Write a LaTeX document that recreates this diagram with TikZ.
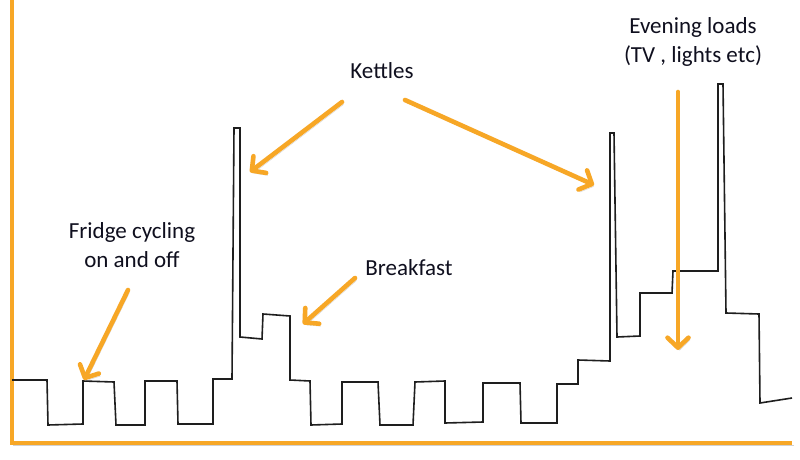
\documentclass[tikz,border=0pt]{standalone}
\usepackage{fontspec}
\setmainfont{Carlito}
\usetikzlibrary{arrows.meta}
\definecolor{orng}{RGB}{247,167,38}
\definecolor{trace}{RGB}{30,30,30}
\definecolor{ink}{RGB}{15,15,30}
\tikzset{
  shad/.style={preaction={draw=black, draw opacity=0.18, transform canvas={shift={(1.5pt,-2.5pt)}}}},
  axisline/.style={draw=orng, line width=4pt, shad},
  callout/.style={draw=orng, line width=4.6pt, line cap=round, shad,
    -{Straight Barb[length=10pt, width=21pt, line width=4.6pt, round]}},
  label/.style={font=\fontsize{23}{29}\selectfont, text=ink, inner sep=0pt, align=center},
  tracepath/.style={draw=trace, line width=1.6pt, line join=miter}
}
\begin{document}
\begin{tikzpicture}[x=1pt, y=-1pt]
\useasboundingbox (0,0) rectangle (800,460);
\fill[white] (0,0) rectangle (800,460);

% axes
\coordinate (ytop) at (12,0);
\coordinate (orig) at (12,443);
\coordinate (xend) at (792,443);
\draw[axisline] (ytop) -- (orig) -- (xend);

% load trace
\draw[tracepath] (12,380) -- (47,380) -- (48,425) -- (83,424) -- (83,381) -- (114,382) -- (116,425)
 -- (145,425) -- (145,381) -- (177,381) -- (178,424) -- (213,424) -- (213,379) -- (232,379)
 -- (234,128) -- (240,128) -- (240,337) -- (262,339) -- (263,314) -- (290,316) -- (290,380)
 -- (310,381) -- (311,425) -- (342,424) -- (342,382) -- (378,382) -- (380,425) -- (413,425)
 -- (415,382) -- (445,381) -- (445,423) -- (483,422) -- (483,383) -- (520,383) -- (521,423)
 -- (557,423) -- (557,384) -- (578,384) -- (578,360) -- (610,361) -- (610,133) -- (614,133)
 -- (617,337) -- (640,336) -- (640,293) -- (672,293) -- (673,271) -- (718,271) -- (718,84)
 -- (723,84) -- (726,313) -- (759,314) -- (760,403) -- (792,398);

% labels
\node[label, anchor=base] (kettles) at (382,78) {Kettles};
\node[label, anchor=base] (breakfast) at (409,275) {Breakfast};
\node[label] (fridge) at (132,245) {Fridge cycling\\on and off};
\node[label] (evening) at (693,42) {Evening loads\\(TV , lights etc)};

% arrow ends
\coordinate (fA) at (128,290);  \coordinate (fB) at (84,380);
\coordinate (k1A) at (342,102); \coordinate (k1B) at (250,172);
\coordinate (k2A) at (405,100); \coordinate (k2B) at (594,185);
\coordinate (bA) at (355,278);  \coordinate (bB) at (303,324);
\coordinate (eA) at (678,92);   \coordinate (eB) at (678,350);

\draw[callout] (fA) -- (fB);
\draw[callout] (k1A) -- (k1B);
\draw[callout] (k2A) -- (k2B);
\draw[callout] (bA) -- (bB);
\draw[callout] (eA) -- (eB);
\end{tikzpicture}
\end{document}
